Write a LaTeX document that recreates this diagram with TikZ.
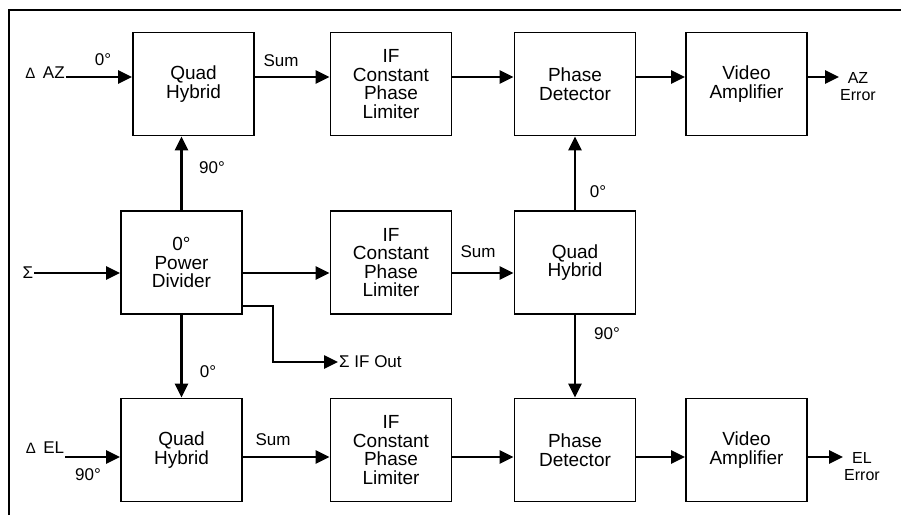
\documentclass[tikz,border=0pt]{standalone}
\usepackage{fontspec}
\setmainfont{Liberation Sans}
\usetikzlibrary{arrows.meta,positioning}

\begin{document}
\begin{tikzpicture}[x=1pt, y=-1pt, font=\fontsize{19}{18.5}\selectfont]
\tikzstyle{blk}=[draw, line width=1.8pt, align=center, minimum width=121pt, minimum height=103pt, inner sep=2pt]
\tikzstyle{lbl}=[inner sep=1pt, align=center, font=\fontsize{17}{18}\selectfont]
\tikzstyle{sig}=[line width=2.6pt, -{Triangle[length=14pt,width=13pt]}]
\useasboundingbox (0,0) rectangle (901,515);
% frame
\draw[line width=2.8pt] (9,515) -- (9,10) -- (901,10);
% rows of signal lines
\coordinate (r1) at (0,77);
\coordinate (r2) at (0,273);
\coordinate (r3) at (0,457);
\coordinate (ro) at (0,306);
\coordinate (rs) at (0,362);
% blocks
\node[blk] (qhaz) at (193.5,84) {Quad\\Hybrid};
\node[blk] (ifaz) at (391,84) {IF\\Constant\\Phase\\Limiter};
\node[blk] (pdaz) at (575,84) {Phase\\Detector};
\node[blk] (vaaz) at (746.5,84) {Video\\Amplifier};
\node[blk] (pwr) at (181.5,262.5) {0°\\Power\\Divider};
\node[blk] (ifs) at (391,262.5) {IF\\Constant\\Phase\\Limiter};
\node[blk] (qhs) at (575,262.5) {Quad\\Hybrid};
\node[blk] (qhel) at (181.5,450) {Quad\\Hybrid};
\node[blk] (ifel) at (391,450) {IF\\Constant\\Phase\\Limiter};
\node[blk] (pdel) at (575,450) {Phase\\Detector};
\node[blk] (vael) at (746.5,450) {Video\\Amplifier};
% inputs and outputs
\node[lbl] (daz) at (45,73) {{\fontsize{15}{16}\selectfont Δ}\, AZ};
\node[lbl] (sig) at (28,273) {Σ};
\node[lbl] (del) at (45,448) {{\fontsize{15}{16}\selectfont Δ}\, EL};
\node[lbl, font=\fontsize{16}{17}\selectfont] (azerr) at (858,87) {AZ\\Error};
\node[lbl, font=\fontsize{16}{17}\selectfont] (elerr) at (862,467) {EL\\Error};
\node[lbl, anchor=west] (sout) at (338,362) {Σ IF Out};
\coordinate (bend) at (273,306);
% labels
\node[lbl] (l1) at (103,60) {0°};
\node[lbl] (l2) at (281,61) {Sum};
\node[lbl] (l3) at (212,168) {90°};
\node[lbl] (l4) at (478,252) {Sum};
\node[lbl] (l5) at (598,192) {0°};
\node[lbl] (l6) at (607,334) {90°};
\node[lbl] (l7) at (208,372) {0°};
\node[lbl] (l8) at (88,475) {90°};
\node[lbl] (l9) at (273,440) {Sum};
% top row
\draw[sig] (daz.east |- r1) -- (qhaz.west |- r1);
\draw[sig] (qhaz.east |- r1) -- (ifaz.west |- r1);
\draw[sig] (ifaz.east |- r1) -- (pdaz.west |- r1);
\draw[sig] (pdaz.east |- r1) -- (vaaz.west |- r1);
\draw[sig] (vaaz.east |- r1) -- (azerr.west |- r1);
% middle row
\draw[sig] (sig.east |- r2) -- (pwr.west |- r2);
\draw[sig] (pwr.east |- r2) -- (ifs.west |- r2);
\draw[sig] (ifs.east |- r2) -- (qhs.west |- r2);
\draw[sig] (pwr.east |- ro) -- (bend) -- (bend |- rs) -- (sout.west);
% verticals
\draw[sig] (pwr.north) -- (pwr.north |- qhaz.south);
\draw[sig] (pwr.south) -- (qhel.north);
\draw[sig] (qhs.north) -- (pdaz.south);
\draw[sig] (qhs.south) -- (pdel.north);
% bottom row
\draw[sig] (del.east |- r3) -- (qhel.west |- r3);
\draw[sig] (qhel.east |- r3) -- (ifel.west |- r3);
\draw[sig] (ifel.east |- r3) -- (pdel.west |- r3);
\draw[sig] (pdel.east |- r3) -- (vael.west |- r3);
\draw[sig] (vael.east |- r3) -- (elerr.west |- r3);
\end{tikzpicture}
\end{document}
